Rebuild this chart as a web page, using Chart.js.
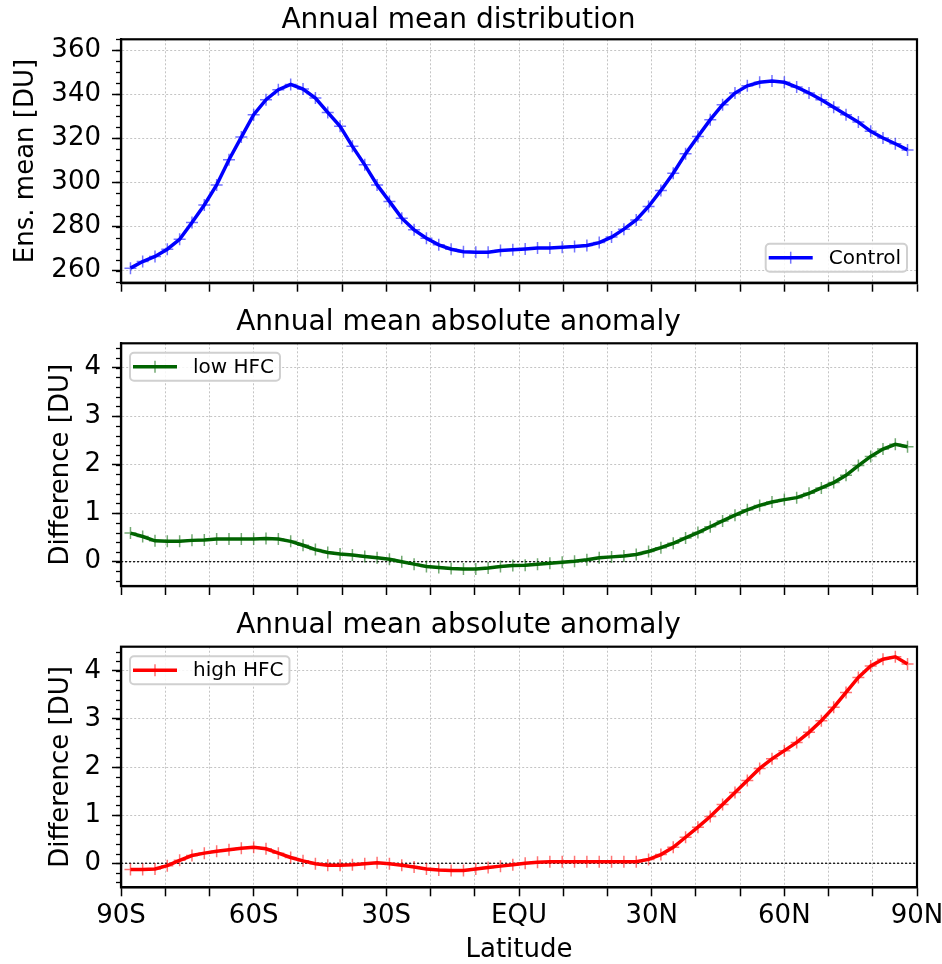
<!DOCTYPE html>
<html>
<head>
<meta charset="utf-8">
<script src="https://cdn.jsdelivr.net/npm/chart.js@4.4.0/dist/chart.umd.min.js"></script>
<style>
  html, body { margin: 0; padding: 0; background: #fff; }
  #wrap { position: relative; width: 942px; height: 964px; }
  canvas { position: absolute; left: 0; }
</style>
</head>
<body>
<div id="wrap">
  <canvas id="c1" width="942" height="300" style="top:0px"></canvas>
  <canvas id="c2" width="942" height="300" style="top:300px"></canvas>
  <canvas id="c3" width="942" height="364" style="top:600px"></canvas>
</div>
<script>
// T42 gaussian latitudes, south to north
const latitudes = [
  -87.86, -85.10, -82.31, -79.53, -76.74, -73.95, -71.16, -68.37, -65.58, -62.79,
  -60.00, -57.21, -54.42, -51.63, -48.84, -46.04, -43.25, -40.46, -37.67, -34.88,
  -32.09, -29.30, -26.51, -23.72, -20.93, -18.14, -15.35, -12.56, -9.77, -6.98,
  -4.19, -1.40, 1.40, 4.19, 6.98, 9.77, 12.56, 15.35, 18.14, 20.93,
  23.72, 26.51, 29.30, 32.09, 34.88, 37.67, 40.46, 43.25, 46.04, 48.84,
  51.63, 54.42, 57.21, 60.00, 62.79, 65.58, 68.37, 71.16, 73.95, 76.74,
  79.53, 82.31, 85.10, 87.86
];
const control = [
  261.1, 264.1, 266.4, 269.7, 274.2, 281.8, 289.8, 298.9, 310.3, 320.6,
  330.8, 337.6, 342.1, 344.5, 342.4, 338.3, 331.8, 325.5, 316.4, 308.0,
  298.9, 291.4, 283.8, 278.5, 274.7, 271.7, 269.7, 268.6, 268.3, 268.3,
  269.1, 269.5, 269.8, 270.2, 270.3, 270.6, 270.9, 271.4, 272.7, 275.2,
  278.8, 283.0, 289.1, 296.4, 304.2, 313.0, 320.9, 328.5, 335.3, 340.6,
  343.9, 345.5, 346.1, 345.5, 343.3, 340.6, 337.6, 334.2, 330.8, 327.4,
  323.2, 320.2, 317.6, 314.8
];
const lowHFC = [
  0.59, 0.52, 0.43, 0.42, 0.42, 0.44, 0.45, 0.47, 0.47, 0.47,
  0.47, 0.48, 0.47, 0.42, 0.34, 0.25, 0.19, 0.16, 0.14, 0.11,
  0.08, 0.05, 0.00, -0.05, -0.10, -0.12, -0.14, -0.15, -0.15, -0.13,
  -0.10, -0.08, -0.07, -0.05, -0.03, -0.01, 0.01, 0.04, 0.08, 0.10,
  0.12, 0.15, 0.21, 0.29, 0.38, 0.49, 0.60, 0.72, 0.84, 0.96,
  1.07, 1.16, 1.23, 1.28, 1.32, 1.41, 1.52, 1.63, 1.78, 1.98,
  2.17, 2.32, 2.42, 2.37
];
const highHFC = [
  -0.13, -0.13, -0.12, -0.05, 0.06, 0.16, 0.21, 0.25, 0.28, 0.31,
  0.33, 0.30, 0.21, 0.12, 0.05, -0.01, -0.04, -0.04, -0.03, -0.01,
  0.01, -0.01, -0.04, -0.08, -0.12, -0.14, -0.15, -0.15, -0.12, -0.09,
  -0.06, -0.03, 0.00, 0.02, 0.03, 0.03, 0.03, 0.03, 0.03, 0.03,
  0.03, 0.03, 0.08, 0.18, 0.33, 0.54, 0.75, 0.97, 1.22, 1.47,
  1.72, 1.97, 2.17, 2.34, 2.51, 2.72, 2.96, 3.24, 3.55, 3.86,
  4.10, 4.24, 4.29, 4.14
];

const xTicks = [-90, -80, -70, -60, -50, -40, -30, -20, -10, 0, 10, 20, 30, 40, 50, 60, 70, 80, 90];
const xMajor = [-90, -60, -30, 0, 30, 60, 90];
const xMajorLabels = ['90S', '60S', '30S', 'EQU', '30N', '60N', '90N'];
const yTicksTop = [260, 280, 300, 320, 340, 360];
const yTicksDiff = [0, 1, 2, 3, 4];

Chart.defaults.font.family = '"DejaVu Sans", sans-serif';
Chart.defaults.color = '#000';

// black box round the plot area
const framePlugin = {
    id: 'frame',
    afterDraw(chart) {
        const a = chart.chartArea, ctx = chart.ctx;
        ctx.save();
        ctx.strokeStyle = '#000';
        ctx.lineWidth = 2.2;
        ctx.strokeRect(a.left, a.top, a.right - a.left, a.bottom - a.top);
        ctx.restore();
    }
};

// short minor ticks on the y axis
const minorPlugin = {
    id: 'minorTicks',
    afterDraw(chart, args, opts) {
        if (!opts.step) return;
        const y = chart.scales.y, ctx = chart.ctx;
        const left = chart.chartArea.left;
        ctx.save();
        ctx.strokeStyle = '#000';
        ctx.lineWidth = 1.3;
        const n0 = Math.ceil(y.min / opts.step);
        const n1 = Math.floor(y.max / opts.step);
        for (let n = n0; n <= n1; n++) {
            const p = Math.round(y.getPixelForValue(n * opts.step)) + 0.5;
            ctx.beginPath();
            ctx.moveTo(left - 5, p);
            ctx.lineTo(left, p);
            ctx.stroke();
        }
        ctx.restore();
    }
};

// matplotlib-like legend box inside the axes
const legendPlugin = {
    id: 'boxLegend',
    afterDraw(chart, args, opts) {
        const ds = chart.data.datasets[0];
        const ctx = chart.ctx, a = chart.chartArea;
        ctx.save();
        ctx.font = '20px "DejaVu Sans"';
        const tw = ctx.measureText(ds.label).width;
        const w = 63 + tw + 6, h = 28;
        const x = opts.corner === 'lr' ? a.right - 10 - w : a.left + 9;
        const y = opts.corner === 'lr' ? a.bottom - 11 - h : a.top + 9.5;
        ctx.fillStyle = 'rgba(255,255,255,0.85)';
        ctx.strokeStyle = '#d0d0d0';
        ctx.lineWidth = 2;
        ctx.beginPath();
        if (ctx.roundRect) ctx.roundRect(x, y, w, h, 4); else ctx.rect(x, y, w, h);
        ctx.fill();
        ctx.stroke();
        const cy = y + h / 2;
        ctx.strokeStyle = ds.borderColor;
        ctx.lineWidth = 3.5;
        ctx.beginPath();
        ctx.moveTo(x + 3, cy);
        ctx.lineTo(x + 47, cy);
        ctx.stroke();
        ctx.strokeStyle = ds.pointBorderColor;
        ctx.lineWidth = 1.5;
        ctx.beginPath();
        ctx.moveTo(x + 25, cy - 6);
        ctx.lineTo(x + 25, cy + 6);
        ctx.stroke();
        ctx.fillStyle = '#000';
        ctx.textBaseline = 'middle';
        ctx.fillText(ds.label, x + 63, cy + 1);
        ctx.restore();
    }
};

function makePanel(id, p) {
    const datasets = [{
        label: p.label,
        data: latitudes.map((lat, i) => ({x: lat, y: p.values[i]})),
        borderColor: p.color,
        borderWidth: 3.5,
        pointStyle: 'cross',
        pointRadius: 6,
        pointBorderColor: p.markerColor,
        pointBorderWidth: 1.5,
        tension: 0,
        fill: false
    }];
    if (p.zeroLine) {
        datasets.push({
            label: 'zero',
            data: [{x: -90, y: 0}, {x: 90, y: 0}],
            borderColor: '#000',
            borderWidth: 1.2,
            borderDash: [2, 2],
            pointRadius: 0,
            fill: false
        });
    }
    const grid = {
        color: '#c4c4c4',
        lineWidth: 1,
        tickLength: 9,
        tickColor: '#000',
        tickWidth: 1.5,
        tickBorderDash: []
    };
    const border = {color: '#000', width: 2.2, dash: [2, 2]};
    return new Chart(document.getElementById(id), {
        type: 'line',
        data: {datasets: datasets},
        options: {
            responsive: false,
            animation: false,
            events: [],
            layout: {padding: {left: 0, right: 25, top: 0, bottom: 0}},
            plugins: {
                legend: {display: false},
                tooltip: {enabled: false},
                title: {
                    display: true,
                    text: p.title,
                    color: '#000',
                    font: {size: 28, weight: 'normal'},
                    padding: {top: p.titleTop, bottom: p.titleBottom}
                },
                minorTicks: {step: p.minorStep},
                boxLegend: {corner: p.legendCorner}
            },
            scales: {
                x: {
                    type: 'linear',
                    min: -90,
                    max: 90,
                    afterBuildTicks: s => { s.ticks = xTicks.map(v => ({value: v})); },
                    afterFit: s => { s.height = p.xHeight; s.paddingLeft = 0; s.paddingRight = 0; },
                    ticks: {
                        display: p.showX,
                        autoSkip: false,
                        maxRotation: 0,
                        padding: 4,
                        font: {size: 26},
                        callback: v => {
                            const k = xMajor.indexOf(v);
                            return k >= 0 ? xMajorLabels[k] : '';
                        }
                    },
                    grid: grid,
                    border: border,
                    title: {
                        display: p.showX,
                        text: 'Latitude',
                        font: {size: 26, lineHeight: 1.0},
                        padding: {top: 0, bottom: 1}
                    }
                },
                y: {
                    type: 'linear',
                    min: p.ymin,
                    max: p.ymax,
                    afterBuildTicks: s => { s.ticks = p.yTicks.map(v => ({value: v})); },
                    afterFit: s => { s.width = 121; s.paddingTop = 0; s.paddingBottom = 0; },
                    ticks: {padding: 11, font: {size: 26}},
                    grid: grid,
                    border: border,
                    title: {
                        display: true,
                        text: p.ylabel,
                        font: {size: 26},
                        padding: {top: p.yTitlePad, bottom: 0}
                    }
                }
            }
        },
        plugins: [framePlugin, minorPlugin, legendPlugin]
    });
}

window.addEventListener('load', function() {
    makePanel('c1', {
        title: 'Annual mean distribution',
        ylabel: 'Ens. mean [DU]',
        label: 'Control',
        values: control,
        color: '#0000ff',
        markerColor: 'rgba(0,0,255,0.55)',
        ymin: 254.5, ymax: 365, yTicks: yTicksTop, minorStep: 5,
        titleTop: 4, titleBottom: 1.7,
        xHeight: 17.3, showX: false,
        yTitlePad: 10.4,
        legendCorner: 'lr',
        zeroLine: false
    });
    makePanel('c2', {
        title: 'Annual mean absolute anomaly',
        ylabel: 'Difference [DU]',
        label: 'low HFC',
        values: lowHFC,
        color: '#006400',
        markerColor: 'rgba(0,100,0,0.55)',
        ymin: -0.5, ymax: 4.5, yTicks: yTicksDiff, minorStep: 0.2,
        titleTop: 6, titleBottom: 3.7,
        xHeight: 14, showX: false,
        yTitlePad: 45.4,
        legendCorner: 'ul',
        zeroLine: true
    });
    makePanel('c3', {
        title: 'Annual mean absolute anomaly',
        ylabel: 'Difference [DU]',
        label: 'high HFC',
        values: highHFC,
        color: '#ff0000',
        markerColor: 'rgba(255,0,0,0.55)',
        ymin: -0.5, ymax: 4.5, yTicks: yTicksDiff, minorStep: 0.2,
        titleTop: 9, titleBottom: 4.1,
        xHeight: 76.7, showX: true,
        yTitlePad: 45.4,
        legendCorner: 'ul',
        zeroLine: true
    });
});
</script>
</body>
</html>
